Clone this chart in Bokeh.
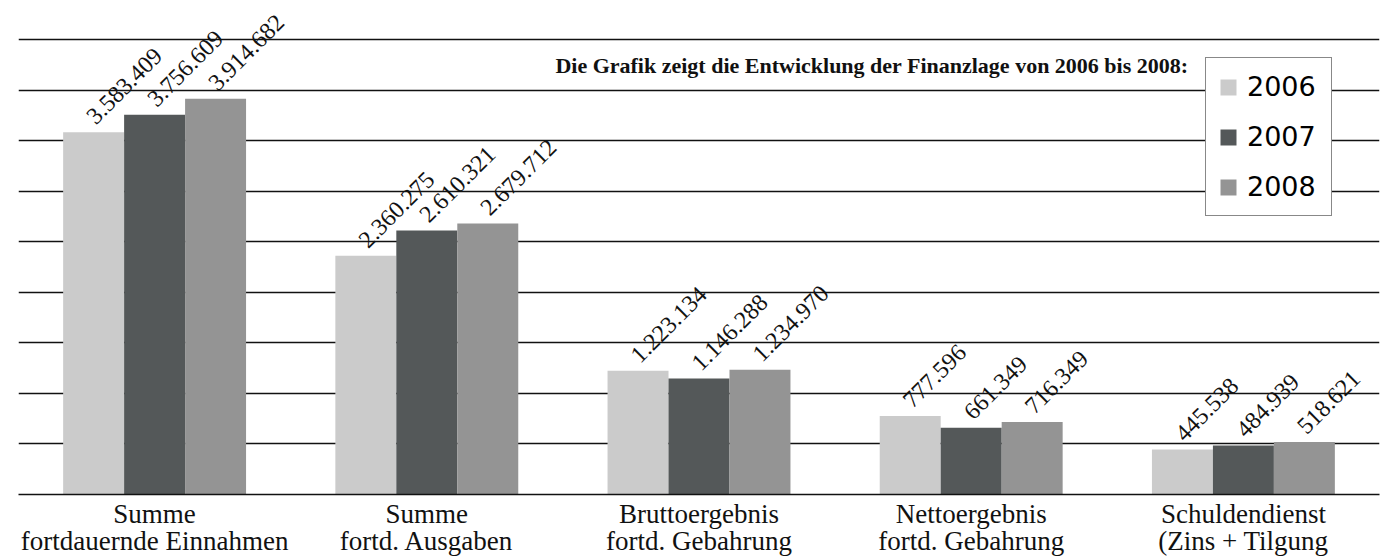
from bokeh.plotting import figure
from bokeh.models import ColumnDataSource, FactorRange, FixedTicker, Label, Legend, LegendItem
from bokeh.transform import dodge
from bokeh.core.properties import value
from bokeh.embed import file_html
from bokeh.resources import INLINE

categories = [
    "Summe\nfortdauernde Einnahmen",
    "Summe\nfortd. Ausgaben",
    "Bruttoergebnis\nfortd. Gebahrung",
    "Nettoergebnis\nfortd. Gebahrung",
    "Schuldendienst\n(Zins + Tilgung",
]
years = ["2006", "2007", "2008"]
v2006 = [3583409, 2360275, 1223134, 777596, 445538]
v2007 = [3756609, 2610321, 1146288, 661349, 484939]
v2008 = [3914682, 2679712, 1234970, 716349, 518621]
grid_ticks = [0, 500000, 1000000, 1500000, 2000000, 2500000, 3000000, 3500000, 4000000, 4500000]
colors = ["#cbcbcb", "#545859", "#949494"]
title_text = "Die Grafik zeigt die Entwicklung der Finanzlage von 2006 bis 2008:"

def fmt(v):
    return f"{v:,}".replace(",", ".")

data = dict(cat=categories)
for y, vals in zip(years, [v2006, v2007, v2008]):
    data["v" + y] = vals
    data["l" + y] = [fmt(v) for v in vals]
src = ColumnDataSource(data)

p = figure(x_range=FactorRange(*categories, range_padding=0),
           y_range=(0, 4885700),
           width=1385, height=558, output_backend="svg", toolbar_location=None,
           min_border_left=18, min_border_right=6, min_border_top=0, min_border_bottom=0)
p.outline_line_color = None
p.background_fill_color = "white"
p.border_fill_color = "white"

bw = 0.224
offsets = [-bw, 0.0, bw]
items = []
for y, c, off in zip(years, colors, offsets):
    r = p.vbar(x=dodge("cat", off, range=p.x_range), top="v" + y, width=bw,
               source=src, fill_color=c, line_color=None)
    items.append(LegendItem(label=y, renderers=[r]))
    p.text(x=dodge("cat", off, range=p.x_range), y="v" + y, text="l" + y, source=src,
           angle=0.7854, text_align="left", text_baseline="alphabetic",
           x_offset=-3, y_offset=-12,
           text_font=value("Liberation Serif"), text_font_size="24px", text_color="#111111")

p.yaxis.visible = False
p.ygrid.ticker = FixedTicker(ticks=grid_ticks)
p.ygrid.grid_line_color = "#111111"
p.ygrid.grid_line_width = 1.6
p.xgrid.grid_line_color = None

ax = p.xaxis[0]
ax.axis_line_color = "#111111"
ax.axis_line_width = 1.6
ax.major_tick_line_color = None
ax.minor_tick_line_color = None
ax.major_tick_out = 0
ax.major_tick_in = 0
ax.major_label_text_font = "Liberation Serif"
ax.major_label_text_font_size = "27px"
ax.major_label_text_color = "#111111"
ax.major_label_text_line_height = 0.91
ax.major_label_orientation = "horizontal"
ax.major_label_standoff = 4

legend = Legend(items=items, location=(1187, 278), orientation="vertical",
                glyph_width=20, glyph_height=20, label_height=33, label_width=72, spacing=17,
                padding=12, margin=0, label_standoff=9,
                label_text_font="DejaVu Sans", label_text_font_size="27px",
                label_text_color="#000000", label_text_baseline="middle",
                border_line_color="#111111", border_line_width=1.5,
                background_fill_color="white", background_fill_alpha=1.0)
p.add_layout(legend)

p.add_layout(Label(x=1170, y=429, x_units="screen", y_units="screen", text=title_text,
                   text_align="right", text_baseline="alphabetic",
                   text_font="Liberation Serif", text_font_style="bold",
                   text_font_size="22px", text_color="#111111"))

open("out.html", "w").write(file_html(p, INLINE))
